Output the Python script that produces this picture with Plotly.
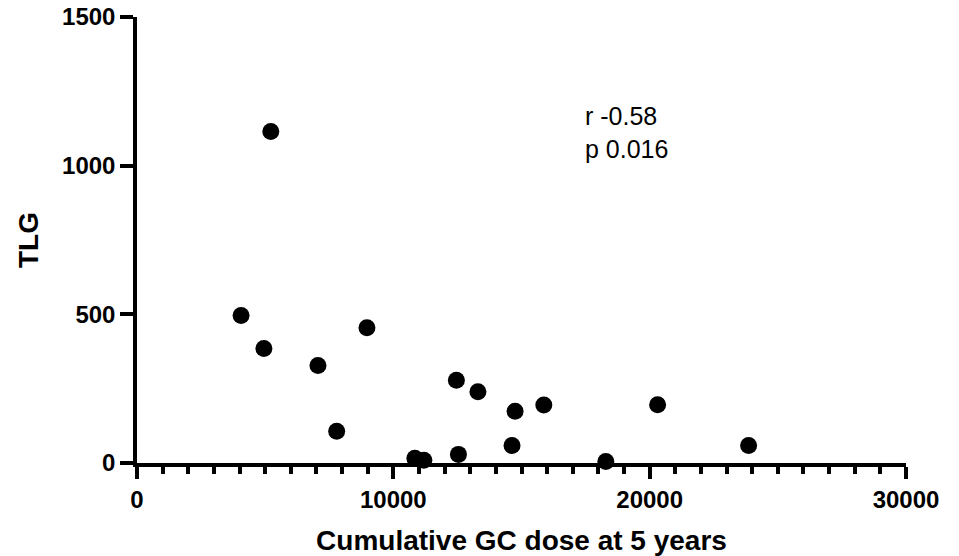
import plotly.graph_objects as go

# Cumulative glucocorticoid dose at 5 years vs. total lesion glycolysis
gc_dose = [5220, 4060, 4950, 7060, 8970, 7790, 12460, 13300, 14750, 15870,
           14630, 12540, 10840, 11190, 18290, 20310, 23860]
tlg = [1115, 496, 385, 328, 455, 107, 278, 240, 174, 195,
       59, 29, 16, 9, 5, 196, 59]

x_ticks = [0, 10000, 20000, 30000]
y_ticks = [0, 500, 1000, 1500]

FONT = "Liberation Sans, Arial, sans-serif"

fig = go.Figure(
    go.Scatter(
        x=gc_dose, y=tlg, mode="markers",
        marker=dict(size=17, color="black", line=dict(width=0)),
        cliponaxis=False,
    )
)

axis_common = dict(
    showgrid=False, zeroline=False, showline=True, linecolor="black",
    linewidth=3.5, ticks="outside", tickcolor="black", tickwidth=3.5,
    tickfont=dict(family=FONT, size=24, color="black", weight="bold"),
    automargin=False,
)

fig.update_xaxes(
    range=[0, 30000], tickvals=x_ticks, ticktext=[str(v) for v in x_ticks],
    ticklen=12,
    minor=dict(dtick=1000, ticks="outside", ticklen=7, tickwidth=3.5, tickcolor="black"),
    title=dict(text="Cumulative GC dose at 5 years", standoff=20,
               font=dict(family=FONT, size=28, color="black", weight="bold")),
    **axis_common,
)
fig.update_yaxes(
    range=[0, 1500], tickvals=y_ticks, ticktext=[str(v) for v in y_ticks],
    ticklen=13,
    title=dict(text="TLG", standoff=16,
               font=dict(family=FONT, size=28, color="black", weight="bold")),
    **axis_common,
)

fig.add_annotation(
    x=17380, y=1111, xref="x", yref="y", xanchor="left", yanchor="middle",
    text="r -0.58<br>p 0.016", showarrow=False, align="left",
    font=dict(family=FONT, size=25, color="black"),
)

fig.update_layout(
    width=959, height=556,
    margin=dict(l=137, r=53, t=17, b=93),
    plot_bgcolor="white", paper_bgcolor="white",
    showlegend=False,
)

fig.write_html("out.html")
